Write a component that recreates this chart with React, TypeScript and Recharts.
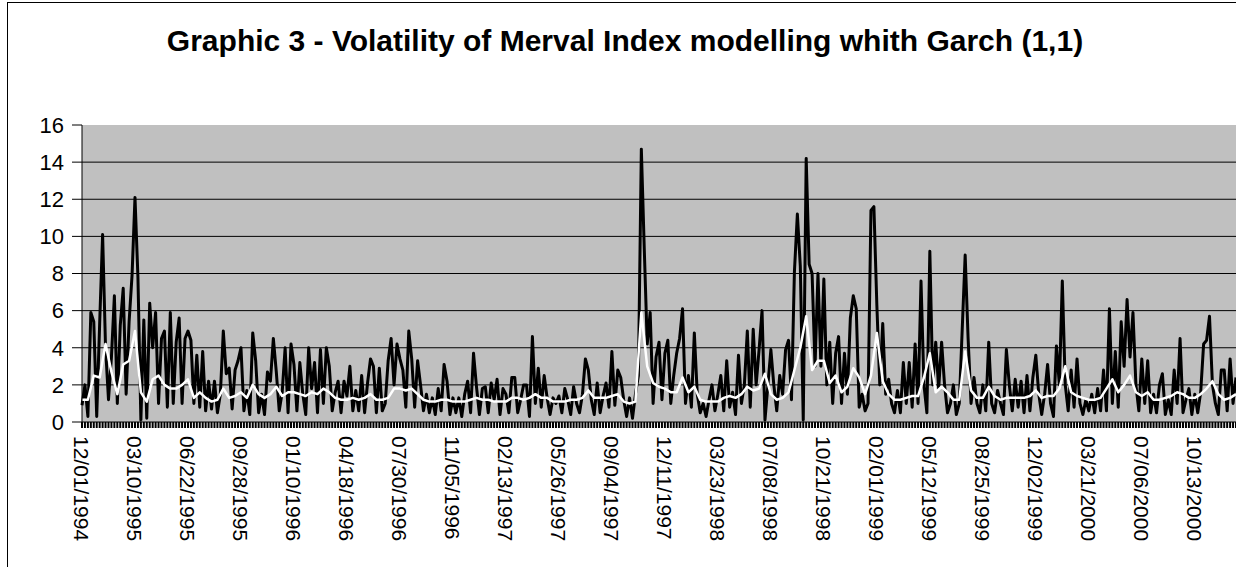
import { LineChart, Line, XAxis, YAxis, CartesianGrid } from "recharts";

// one label every 18 rows on the category axis
const dateLabels = [
  "12/01/1994", "03/10/1995", "06/22/1995", "09/28/1995", "01/10/1996", "04/18/1996",
  "07/30/1996", "11/05/1996", "02/13/1997", "05/26/1997", "09/04/1997", "12/11/1997",
  "03/23/1998", "07/08/1998", "10/21/1998", "02/01/1999", "05/12/1999", "08/25/1999",
  "12/02/1999", "03/21/2000", "07/06/2000", "10/13/2000",
];

// squared returns (black)
const black1 = [
  0.9, 2.0, 0.3, 5.9, 5.4, 0.3, 5.3, 10.1, 4.0, 1.2, 3.5, 6.8, 1.0, 5.2, 7.2, 1.5, 5.4, 7.9,
  12.1, 7.8, 0.1, 5.5, 0.2, 6.4, 4.0, 5.9, 1.0, 4.5, 4.9, 0.8, 5.9, 1.0, 4.3, 5.6, 1.0, 4.5,
  4.9, 4.4, 1.0, 3.6, 0.8, 3.8, 0.6, 2.2, 0.7, 2.2, 0.5, 1.5, 4.9, 2.6, 2.9, 0.7, 2.8, 3.3,
  4.0, 0.6, 1.7, 0.4, 4.8, 3.3, 0.5, 1.5, 0.4, 2.7, 2.2, 4.5, 2.7, 0.6, 1.6, 4.0, 0.5, 4.2,
];
const black2 = [
  3.1, 0.6, 3.2, 1.5, 0.4, 4.0, 1.8, 3.2, 0.5, 3.9, 1.0, 4.0, 3.0, 0.6, 1.6, 2.2, 0.5, 2.2,
  1.4, 3.0, 0.6, 1.7, 0.6, 2.5, 0.5, 2.1, 3.4, 3.0, 0.5, 2.9, 0.6, 1.0, 3.3, 4.5, 2.0, 4.2,
  3.4, 2.8, 0.8, 4.9, 3.4, 0.8, 3.3, 2.0, 0.6, 1.5, 0.5, 1.3, 0.4, 1.8, 0.6, 3.1, 2.2, 0.4,
  1.3, 0.5, 1.3, 0.3, 1.5, 2.2, 0.5, 3.7, 1.9, 0.4, 1.8, 1.9, 0.5, 2.1, 1.2, 2.3, 0.4, 1.8,
];
const black3 = [
  1.5, 0.5, 2.4, 2.4, 0.5, 1.2, 2.0, 2.0, 0.3, 4.6, 1.0, 2.9, 0.8, 2.5, 1.3, 0.4, 1.3, 1.0,
  1.4, 0.5, 1.8, 1.2, 0.4, 1.9, 1.0, 0.5, 1.5, 3.4, 2.8, 1.2, 0.4, 2.1, 0.5, 1.4, 2.1, 0.8,
  3.8, 0.9, 2.8, 2.4, 1.2, 0.3, 1.3, 0.2, 1.5, 2.5, 14.7, 9.3, 4.2, 5.9, 1.0, 3.5, 4.3, 1.2,
  3.7, 4.4, 1.0, 2.5, 3.7, 4.5, 6.1, 1.0, 2.5, 0.8, 4.8, 1.5, 0.5, 1.0, 0.3, 1.2, 2.0, 0.6,
];
const black4 = [
  1.5, 2.5, 0.6, 3.3, 0.8, 1.6, 0.4, 3.6, 1.0, 2.0, 4.9, 0.8, 5.0, 2.0, 3.9, 6.0, 0.1, 2.0,
  3.9, 2.0, 0.6, 2.5, 1.5, 3.9, 4.4, 1.2, 8.1, 11.2, 8.4, 0.1, 14.2, 8.5, 8.0, 3.0, 8.0, 3.0,
  7.7, 2.0, 4.3, 1.0, 3.7, 4.6, 1.0, 3.7, 1.5, 5.6, 6.8, 6.1, 0.8, 1.5, 0.6, 1.0, 11.4, 11.6,
  6.3, 2.0, 5.3, 1.5, 2.3, 1.0, 0.5, 1.7, 0.5, 3.2, 1.0, 3.2, 0.8, 4.2, 1.0, 7.6, 2.0, 0.5,
];
const black5 = [
  9.2, 2.0, 4.3, 1.8, 4.3, 2.0, 0.5, 1.0, 2.0, 0.4, 1.0, 5.0, 9.0, 4.5, 1.0, 2.4, 1.0, 0.5,
  2.0, 0.6, 4.3, 1.0, 0.5, 1.7, 1.0, 0.4, 3.9, 2.0, 0.6, 2.3, 0.8, 2.2, 0.5, 2.5, 0.6, 2.4,
  3.6, 1.5, 0.4, 1.5, 3.1, 1.0, 0.3, 4.1, 2.0, 7.6, 2.0, 0.6, 2.8, 0.8, 3.4, 1.0, 0.4, 1.2,
  0.6, 1.5, 0.5, 1.8, 0.6, 2.8, 0.6, 6.1, 1.0, 3.8, 0.8, 5.4, 3.0, 6.6, 3.5, 5.9, 2.0, 0.6,
];
const black6 = [
  3.4, 1.0, 3.3, 0.5, 1.5, 0.5, 2.0, 2.6, 0.4, 1.2, 0.4, 2.8, 1.0, 4.5, 0.5, 1.2, 1.8, 0.4,
  1.5, 0.5, 1.6, 4.2, 4.4, 5.7, 2.0, 1.0, 0.4, 2.8, 2.8, 0.6, 3.4, 1.0, 2.4,
];

// GARCH(1,1) volatility (white), one value every second row
const white1 = [
  1.2, 1.2, 2.5, 2.4, 4.2, 2.7, 1.5, 3.1, 3.3, 4.9, 1.6, 1.1, 2.3, 2.5, 2.0, 1.8, 1.8, 2.0,
  2.3, 1.3, 1.6, 1.3, 1.1, 1.2, 1.8, 1.3, 1.4, 1.6, 1.3, 2.0, 1.5, 1.3, 1.5, 1.9, 1.4, 1.6,
];
const white2 = [
  1.6, 1.5, 1.4, 1.6, 1.5, 1.8, 1.6, 1.3, 1.2, 1.2, 1.3, 1.2, 1.3, 1.5, 1.2, 1.2, 1.3, 1.8,
  1.8, 1.7, 1.8, 1.5, 1.2, 1.1, 1.1, 1.2, 1.2, 1.1, 1.1, 1.1, 1.2, 1.3, 1.2, 1.2, 1.1, 1.1,
];
const white3 = [
  1.1, 1.3, 1.3, 1.2, 1.3, 1.5, 1.3, 1.3, 1.1, 1.1, 1.1, 1.2, 1.2, 1.3, 1.7, 1.3, 1.3, 1.3,
  1.4, 1.5, 1.1, 1.0, 1.1, 5.9, 3.0, 2.1, 1.9, 1.8, 1.6, 1.6, 2.4, 1.6, 1.9, 1.2, 1.1, 1.1,
];
const white4 = [
  1.1, 1.3, 1.4, 1.3, 1.5, 1.9, 1.7, 1.8, 2.6, 1.5, 1.2, 1.3, 1.6, 2.8, 4.0, 5.7, 2.8, 3.3,
  3.3, 2.1, 2.5, 1.6, 1.9, 2.9, 2.4, 1.5, 2.5, 4.8, 2.2, 1.5, 1.2, 1.2, 1.3, 1.4, 1.4, 2.4,
];
const white5 = [
  3.7, 1.6, 1.9, 1.6, 1.2, 1.2, 3.8, 1.7, 1.3, 1.3, 1.9, 1.4, 1.2, 1.3, 1.3, 1.3, 1.3, 1.4,
  1.7, 1.3, 1.4, 1.4, 1.8, 3.0, 1.6, 1.4, 1.3, 1.2, 1.2, 1.3, 1.8, 2.3, 1.6, 2.0, 2.5, 1.6,
];
const white6 = [
  1.4, 1.6, 1.2, 1.2, 1.3, 1.4, 1.6, 1.5, 1.3, 1.3, 1.5, 1.8, 2.2, 1.5, 1.2, 1.3, 1.5,
];

const yTicks = [0, 2, 4, 6, 8, 10, 12, 14, 16];
const gridLevels = [2, 4, 6, 8, 10, 12, 14];

const ROWS_PER_LABEL = 18;
const FONT = "'Liberation Sans', Arial, sans-serif";

const blackSeries = [...black1, ...black2, ...black3, ...black4, ...black5, ...black6];
const whiteSeries = [...white1, ...white2, ...white3, ...white4, ...white5, ...white6];

const rows = blackSeries.map((v, i) => ({
  idx: i,
  vol: v,
  garch: i % 2 === 0 ? whiteSeries[i / 2] : null,
}));

const DateTick = (props: any) => {
  const { x, y, payload } = props;
  const i = payload.value as number;
  if (i % ROWS_PER_LABEL !== 0) return <g />;
  return (
    <text
      transform={`translate(${x},${y + 6}) rotate(90)`}
      dy="0.36em"
      fontSize={21}
      fontFamily={FONT}
      fill="#000"
    >
      {dateLabels[i / ROWS_PER_LABEL]}
    </text>
  );
};

export default function App() {
  return (
    <div
      style={{
        position: "absolute",
        left: 0,
        top: 0,
        width: 1236,
        height: 567,
        overflow: "hidden",
        background: "#fff",
      }}
    >
      <LineChart
        width={1236}
        height={567}
        data={rows}
        margin={{ top: 125, right: 0, bottom: 0, left: 0 }}
      >
        <CartesianGrid
          fill="#c0c0c0"
          stroke="#000"
          vertical={false}
          horizontalValues={gridLevels}
        />
        <XAxis
          dataKey="idx"
          type="category"
          interval={0}
          height={145}
          tickSize={6}
          tickLine={{ stroke: "#000", strokeWidth: 2 }}
          axisLine={{ stroke: "#000" }}
          tick={<DateTick />}
        />
        <YAxis
          width={82}
          domain={[0, 16]}
          ticks={yTicks}
          interval={0}
          tickSize={10}
          tickMargin={8}
          tickLine={{ stroke: "#000" }}
          axisLine={{ stroke: "#000" }}
          tick={{ fill: "#000", fontSize: 22, fontFamily: FONT }}
        />
        <Line
          type="linear"
          dataKey="vol"
          stroke="#000"
          strokeWidth={3}
          strokeLinejoin="round"
          dot={false}
          isAnimationActive={false}
        />
        <Line
          type="linear"
          dataKey="garch"
          stroke="#fff"
          strokeWidth={2.5}
          strokeLinejoin="round"
          dot={false}
          connectNulls
          isAnimationActive={false}
        />
      </LineChart>
      <svg
        width={1236}
        height={567}
        style={{ position: "absolute", left: 0, top: 0, pointerEvents: "none" }}
      >
        <rect x={7.5} y={2.5} width={1300} height={600} fill="none" stroke="#000" />
        <text
          x={625}
          y={51}
          textAnchor="middle"
          fontSize={30}
          fontWeight="bold"
          fontFamily={FONT}
          fill="#000"
        >
          Graphic 3 - Volatility of Merval Index modelling whith Garch (1,1)
        </text>
      </svg>
    </div>
  );
}
